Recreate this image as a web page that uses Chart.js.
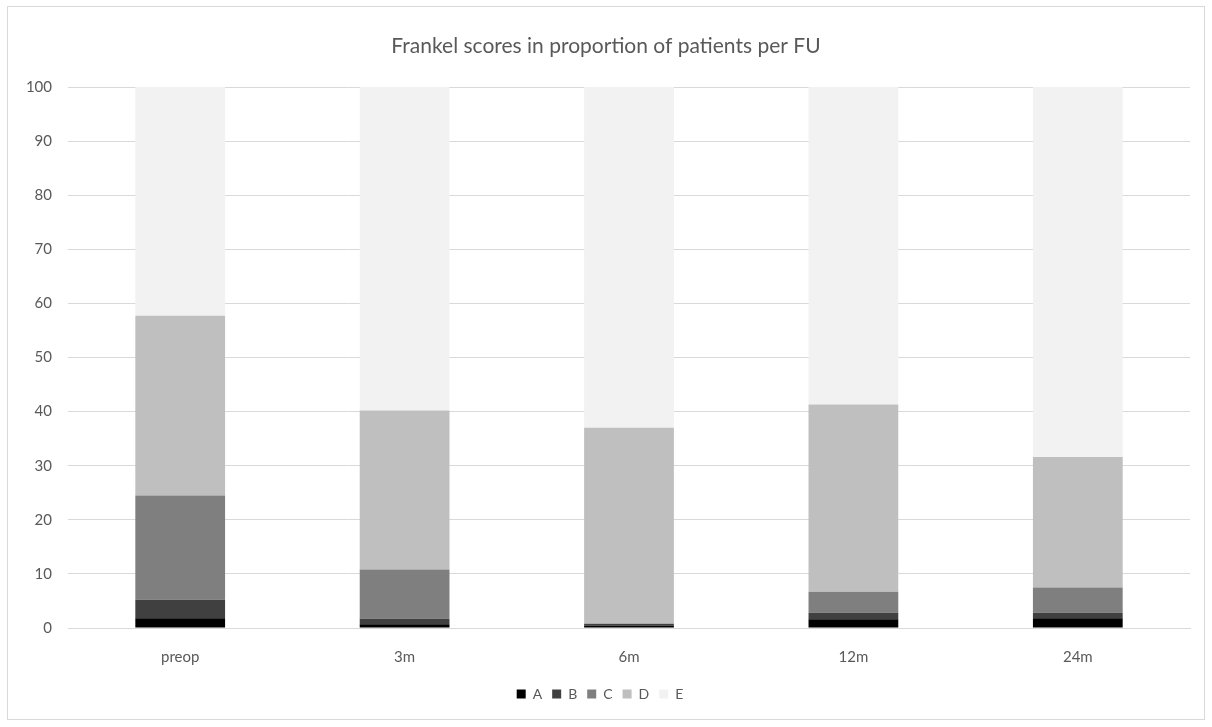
<!DOCTYPE html>
<html><head><meta charset="utf-8">
<script src="https://cdn.jsdelivr.net/npm/chart.js@4/dist/chart.umd.min.js"></script>
<style>html,body{margin:0;padding:0;background:#fff}#wrap{width:1212px;height:727px;position:relative}</style>
</head><body><div id="wrap"><canvas id="c" width="1212" height="727"></canvas></div>
<script>
const categories = ["preop", "3m", "6m", "12m", "24m"];
const scoreA = [1.8, 0.7, 0.4, 1.6, 1.8];
const scoreB = [3.4, 1.0, 0.4, 1.2, 1.0];
const scoreC = [19.3, 9.1, 0.0, 3.9, 4.7];
const scoreD = [33.2, 29.4, 36.2, 34.6, 24.1];
const scoreE = [42.3, 59.8, 63.0, 58.7, 68.4];
const yTicks = [0, 10, 20, 30, 40, 50, 60, 70, 80, 90, 100];
const titleText = "Frankel scores in proportion of patients per FU";

const FONT = "Lato, 'Open Sans', sans-serif";
const frame = {
  id: 'frame',
  beforeDraw(chart) {
    const ctx = chart.ctx;
    ctx.save();
    ctx.fillStyle = '#fff';
    ctx.fillRect(0, 0, chart.width, chart.height);
    ctx.strokeStyle = '#d9d9d9';
    ctx.lineWidth = 1;
    ctx.strokeRect(7.5, 6.5, 1197, 713);
    ctx.fillStyle = '#595959';
    ctx.font = "21px " + FONT;
    ctx.textAlign = 'center';
    ctx.textBaseline = 'middle';
    ctx.fillText(titleText, 606, 46);
    ctx.restore();
  }
};
const mk = (label, data, color) => ({label, data, backgroundColor: color, borderWidth: 0, barPercentage: 0.4, categoryPercentage: 1.0});
new Chart(document.getElementById('c'), {
  type: 'bar',
  data: {
    labels: categories,
    datasets: [
      mk('A', scoreA, '#000000'),
      mk('B', scoreB, '#404040'),
      mk('C', scoreC, '#7f7f7f'),
      mk('D', scoreD, '#bfbfbf'),
      mk('E', scoreE, '#f2f2f2')
    ]
  },
  options: {
    responsive: false,
    animation: false,
    layout: {padding: {left: 10, right: 22, top: 87, bottom: 16}},
    plugins: {
      title: {display: false},
      tooltip: {enabled: false},
      legend: {
        position: 'bottom',
        labels: {boxWidth: 9, boxHeight: 9, padding: 10, color: '#595959', font: {family: FONT, size: 14}}
      }
    },
    scales: {
      x: {
        stacked: true,
        grid: {display: false, drawTicks: false},
        border: {display: true, color: '#d9d9d9', width: 1},
        ticks: {color: '#595959', font: {family: FONT, size: 15}, padding: 20},
        afterFit(s) { s.height = 49; }
      },
      y: {
        stacked: true,
        min: 0, max: 100,
        afterBuildTicks(s) { s.ticks = yTicks.map(v => ({value: v})); },
        grid: {color: '#d9d9d9', drawTicks: false},
        border: {display: false},
        ticks: {color: '#595959', font: {family: FONT, size: 15}, padding: 16},
        afterFit(s) { s.width = 58; }
      }
    }
  },
  plugins: [frame]
});
</script></body></html>
